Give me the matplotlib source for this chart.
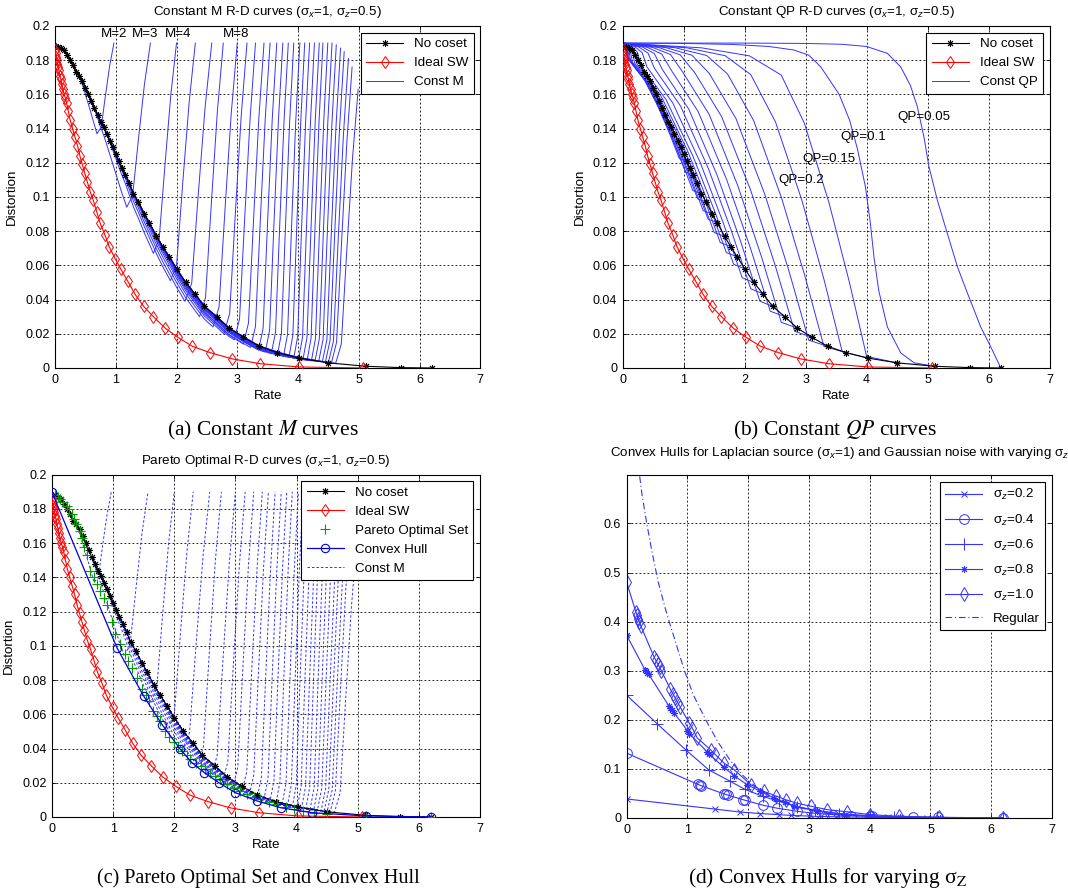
import numpy as np
import matplotlib
matplotlib.use('Agg')
import matplotlib.pyplot as plt
from matplotlib.ticker import FuncFormatter

plt.rcParams['font.family'] = ['Liberation Sans', 'DejaVu Sans']
plt.rcParams['mathtext.fontset'] = 'custom'
plt.rcParams['mathtext.rm'] = 'Liberation Sans'
plt.rcParams['mathtext.it'] = 'Liberation Sans:italic'

# ---------------- data ----------------
# No-coset curve (rate, distortion)
nc_r = np.array([0.05, 0.1, 0.15, 0.2, 0.25, 0.3, 0.35, 0.4, 0.45, 0.5, 0.55, 0.6, 0.65, 0.7, 0.75,
                 0.8, 0.85, 0.9, 0.95, 1.0, 1.05, 1.1, 1.16, 1.22, 1.29, 1.37, 1.47, 1.55, 1.67,
                 1.77, 1.88, 2.0, 2.15, 2.30, 2.46, 2.66, 2.86, 3.1, 3.36, 3.66, 4.02, 4.5, 5.12,
                 5.7, 6.2])
nc_d = np.array([0.188, 0.187, 0.186, 0.183, 0.180, 0.177, 0.173, 0.171, 0.168, 0.164, 0.160, 0.156,
                 0.152, 0.148, 0.144, 0.141, 0.137, 0.133, 0.129, 0.125, 0.121, 0.117, 0.113,
                 0.108, 0.102, 0.097, 0.090, 0.085, 0.077, 0.071, 0.065, 0.058, 0.050, 0.0434,
                 0.036, 0.030, 0.0234, 0.018, 0.0127, 0.009, 0.0058, 0.003, 0.001, 0.0002, 0.0])

# Ideal Slepian-Wolf curve
sw_r = np.array([0.0, 0.01, 0.02, 0.03, 0.04, 0.05, 0.065, 0.08, 0.095, 0.11, 0.13, 0.15, 0.17, 0.19,
                 0.22, 0.25, 0.29, 0.33, 0.37, 0.41, 0.45, 0.49, 0.53, 0.58, 0.63, 0.69, 0.74, 0.82,
                 0.89, 0.99, 1.08, 1.2, 1.32, 1.46, 1.62, 1.81, 2.02, 2.26, 2.55, 2.92, 3.38, 4.02, 5.07])
sw_d = np.array([0.186, 0.184, 0.182, 0.180, 0.178, 0.176, 0.174, 0.171, 0.169, 0.166, 0.163, 0.160,
                 0.158, 0.155, 0.150, 0.145, 0.140, 0.135, 0.130, 0.124, 0.119, 0.114, 0.109, 0.103,
                 0.098, 0.091, 0.085, 0.078, 0.071, 0.064, 0.058, 0.0506, 0.043, 0.036, 0.030, 0.0234,
                 0.018, 0.0127, 0.009, 0.0053, 0.0025, 0.0006, 0.0])

# Constant-M curves, M = 2..30: top point and lowest point of each curve
m_vals = list(range(2, 31))
m_rtop = [0.97, 1.57, 2.0, 2.31, 2.58, 2.77, 3.0, 3.16, 3.30, 3.44, 3.54, 3.65, 3.75, 3.84, 3.93,
          4.03, 4.11, 4.19, 4.27, 4.35, 4.41, 4.49, 4.56, 4.63, 4.70, 4.76, 4.83, 4.89, 4.99]
m_dtop = [0.19] * 23 + [0.189, 0.187, 0.185, 0.181, 0.176, 0.163]
m_rmin = [0.69, 1.18, 1.62, 1.90, 2.14, 2.38, 2.60, 2.78, 2.95, 3.10, 3.22, 3.35, 3.46, 3.56, 3.66,
          3.76, 3.85, 3.93, 4.01, 4.08, 4.15, 4.22, 4.28, 4.34, 4.40, 4.45, 4.50, 4.55, 4.62]
m_dmin = [0.137, 0.094, 0.067, 0.051, 0.039, 0.030, 0.024, 0.020, 0.0165, 0.014, 0.012, 0.0105,
          0.0093, 0.0083, 0.0075, 0.0068, 0.0062, 0.0057, 0.0052, 0.0048, 0.0045, 0.0042, 0.004,
          0.0038, 0.0036, 0.0034, 0.0032, 0.003, 0.0028]
# rising-branch shape read from the M=2 curve (fraction of width / height)
rise_u = [0.0, 0.25, 0.5, 0.75, 1.0]
rise_v = [0.0, 0.07, 0.42, 0.75, 1.0]

# Constant-QP curves
qp005_r = [0, 1, 2, 3, 3.6, 4.0, 4.34, 4.56, 4.72, 4.83, 4.94, 5.02, 5.16, 5.32, 5.49, 5.65, 5.87, 6.03, 6.2]
qp005_d = [0.19, 0.19, 0.19, 0.1898, 0.1893, 0.188, 0.184, 0.176, 0.165, 0.153, 0.135, 0.118, 0.098,
           0.079, 0.059, 0.044, 0.024, 0.0127, 0.0]
qp01_r = [0, 1, 1.8, 2.4, 2.8, 3.05, 3.25, 3.55, 3.72, 3.85, 3.98, 4.06, 4.12, 4.2, 4.34, 4.56, 4.78, 5.12]
qp01_d = [0.19, 0.1898, 0.1892, 0.188, 0.186, 0.183, 0.176, 0.16, 0.145, 0.128, 0.106, 0.085, 0.065,
          0.045, 0.024, 0.0088, 0.003, 0.001]
# remaining QP curves: end point on the no-coset curve, knee and foot rates
qp_end_r = [4.5, 4.02, 3.66, 3.36, 3.1, 2.86, 2.66, 2.46, 2.30, 2.15, 2.0, 1.88, 1.77, 1.67, 1.55,
            1.47, 1.37, 1.29, 1.16, 1.05]
qp_end_d = [0.003, 0.0058, 0.009, 0.0127, 0.018, 0.0234, 0.030, 0.036, 0.0434, 0.050, 0.058, 0.065,
            0.071, 0.077, 0.085, 0.090, 0.097, 0.102, 0.113, 0.121]
qp_knee = [2.6, 2.1, 1.72, 1.42, 1.18, 0.98, 0.8, 0.65, 0.52, 0.4, 0.3, 0.24, 0.2, 0.16, 0.13, 0.11,
           0.09, 0.08, 0.07, 0.06]
qp_foot = [4.0, 3.6, 3.3, 3.05, 2.82, 2.6, 2.42, 2.25, 2.1, 1.96, 1.82, 1.7, 1.6, 1.5, 1.4, 1.32,
           1.23, 1.15, 1.03, 0.93]
qp_upper_u = [0.0, 0.5, 0.8, 1.0]
qp_upper_v = [1.0, 0.985, 0.96, 0.9]
qp_drop_f = [0.27, 0.56, 0.8, 1.0]
qp_drop_v = [0.75, 0.5, 0.25, 0.02]
qp_labels = ['QP=0.05', 'QP=0.1', 'QP=0.15', 'QP=0.2']
qp_label_r = [4.5, 3.57, 2.95, 2.56]
qp_label_d = [0.147, 0.135, 0.122, 0.110]

# Pareto optimal set
po_r = [0.05, 0.1, 0.13, 0.18, 0.24, 0.28, 0.32, 0.36, 0.40, 0.45, 0.49, 0.53, 0.57, 0.62, 0.68,
        0.74, 0.79, 0.85, 0.90, 0.98, 1.03, 1.11, 1.20, 1.25, 1.31, 1.39, 1.47, 1.53, 1.58, 1.66,
        1.72, 1.77, 1.85, 1.92, 1.99, 2.06, 2.13, 2.2, 2.26, 2.35, 2.43, 2.51, 2.59, 2.67, 2.75,
        2.86, 2.97, 3.08, 3.19, 3.3, 3.41, 3.55, 3.68, 3.82, 3.96, 4.1, 4.28, 4.50, 5.13, 6.2]
po_d = [0.188, 0.187, 0.186, 0.184, 0.182, 0.180, 0.177, 0.174, 0.171, 0.167, 0.163, 0.158, 0.153,
        0.144, 0.140, 0.136, 0.132, 0.128, 0.124, 0.114, 0.107, 0.101, 0.095, 0.091, 0.087, 0.081,
        0.075, 0.071, 0.068, 0.062, 0.059, 0.056, 0.050, 0.047, 0.044, 0.041, 0.0385, 0.036,
        0.0337, 0.0318, 0.0298, 0.0278, 0.0259, 0.024, 0.022, 0.0195, 0.0171, 0.015, 0.0132,
        0.0117, 0.0103, 0.0088, 0.0074, 0.006, 0.0045, 0.0035, 0.0025, 0.0016, 0.0006, 0.0]
# Convex hull
ch_r = [0.0, 1.06, 1.5, 1.8, 2.1, 2.29, 2.49, 2.73, 3.0, 3.36, 3.74, 4.26, 5.13, 6.2]
ch_d = [0.1897, 0.099, 0.0706, 0.054, 0.0395, 0.0317, 0.0259, 0.020, 0.0142, 0.0093, 0.0054,
        0.0025, 0.0006, 0.0]

# Panel (d): convex hulls for varying sigma_z
s02_r = [0, 1.46, 1.87, 2.2, 2.5, 2.7, 3.0, 3.2, 3.45, 3.65, 4.0, 4.3, 4.6, 4.95]
s02_d = [0.0387, 0.018, 0.012, 0.009, 0.0068, 0.0052, 0.0038, 0.003, 0.0024, 0.002, 0.0014, 0.001,
         0.0007, 0.0005]
s04_r = [0, 1.17, 1.2, 1.23, 1.6, 1.63, 1.66, 1.92, 1.95, 2.24, 2.47, 2.8, 3.1, 3.4, 3.7, 4.0,
         4.04, 4.72, 5.13, 6.2]
s04_d = [0.132, 0.0685, 0.067, 0.0655, 0.049, 0.0478, 0.0468, 0.037, 0.036, 0.026, 0.020, 0.0136,
         0.0095, 0.0068, 0.005, 0.0036, 0.0034, 0.002, 0.001, 0.0]
s06_r = [0, 0.5, 0.97, 1.35, 1.7, 1.95, 2.24, 2.5, 2.8, 3.1, 3.5, 4.0, 4.4, 5.1, 6.2]
s06_d = [0.25, 0.192, 0.139, 0.098, 0.075, 0.058, 0.044, 0.034, 0.023, 0.016, 0.009, 0.0045,
         0.0025, 0.001, 0.0]
s08_r = [0, 0.30, 0.32, 0.34, 0.36, 0.69, 0.72, 0.75, 0.78, 1.0, 1.03, 1.32, 1.35, 1.6, 1.77,
         1.98, 2.2, 2.42, 2.6, 2.75, 3.14, 3.57, 4.01, 4.5, 5.16]
s08_d = [0.372, 0.302, 0.299, 0.296, 0.293, 0.229, 0.224, 0.219, 0.214, 0.178, 0.172, 0.135,
         0.131, 0.103, 0.086, 0.068, 0.054, 0.041, 0.032, 0.025, 0.0136, 0.0068, 0.0034, 0.0014, 0.0]
s10_r = [0, 0.15, 0.17, 0.19, 0.21, 0.23, 0.45, 0.48, 0.51, 0.54, 0.57, 0.72, 0.76, 0.8, 0.84,
         0.88, 1.03, 1.08, 1.16, 1.38, 1.45, 1.6, 1.77, 2.04, 2.26, 2.45, 2.62, 2.8, 3.03, 3.3,
         3.63, 4.01, 4.48, 5.14, 6.2]
s10_d = [0.48, 0.42, 0.413, 0.406, 0.399, 0.392, 0.328, 0.321, 0.314, 0.307, 0.30, 0.262, 0.253,
         0.244, 0.235, 0.226, 0.193, 0.183, 0.163, 0.139, 0.13, 0.112, 0.098, 0.068, 0.054, 0.045,
         0.037, 0.030, 0.024, 0.017, 0.0125, 0.0068, 0.0034, 0.0014, 0.0]
reg_r = [0.17, 0.2, 0.25, 0.33, 0.42, 0.52, 0.65, 0.8, 0.95, 1.1, 1.3, 1.5, 1.7, 1.9, 2.1, 2.4,
         2.8, 3.3, 3.9, 4.5]
reg_d = [0.75, 0.71, 0.66, 0.60, 0.54, 0.48, 0.42, 0.36, 0.30, 0.25, 0.20, 0.155, 0.118, 0.088,
         0.066, 0.042, 0.022, 0.009, 0.003, 0.001]
sig_labels = ['σ$_z$=0.2', 'σ$_z$=0.4', 'σ$_z$=0.6', 'σ$_z$=0.8', 'σ$_z$=1.0', 'Regular']

# ---------------- helpers ----------------
FS = 9
TFS = 9.6
BLUE = (0.0, 0.0, 1.0)
LBLUE = (0.2, 0.2, 1.0)
ASTER = (8, 2, 0)


def const_m_curve(k):
    rmin, dmin, rtop, dtop = m_rmin[k], m_dmin[k], m_rtop[k], m_dtop[k]
    nc_at_min = np.interp(rmin, nc_r, nc_d)
    sel = nc_r < rmin
    rd = nc_r[sel]
    w = np.clip((rd - 0.5 * rmin) / (0.5 * rmin), 0, 1) ** 1.5
    dd = nc_d[sel] * (1 - (1 - dmin / nc_at_min) * w)
    rr = np.concatenate([[0.0], rd, [rmin], rmin + np.array(rise_u[1:]) * (rtop - rmin)])
    yy = np.concatenate([[0.19], dd, [dmin], dmin + np.array(rise_v[1:]) * (dtop - dmin)])
    return rr, yy


def qp_curve(i):
    re, de, kn, ft = qp_end_r[i], qp_end_d[i], qp_knee[i], qp_foot[i]
    h = 0.19 - de
    rr = [u * kn for u in qp_upper_u] + [kn + f * (ft - kn) for f in qp_drop_f] + [re]
    yy = [de + v * h for v in qp_upper_v] + [de + v * h for v in qp_drop_v] + [de]
    return rr, yy


def style(ax, ymax, yticks):
    ax.set_xlim(0, 7)
    ax.set_ylim(0, ymax)
    ax.set_xticks(range(8))
    ax.set_yticks(yticks)
    ax.yaxis.set_major_formatter(FuncFormatter(lambda v, p: f'{v:g}'))
    ax.grid(True, color='k', linestyle=(0, (2.2, 2.6)), linewidth=0.6)
    ax.tick_params(direction='in', length=3, width=0.6, labelsize=FS, top=True, right=True, pad=4)
    for s in ax.spines.values():
        s.set_linewidth(0.8)
    ax.set_axisbelow(True)


def legend(ax, handles, labels, **kw):
    lg = ax.legend(handles, labels, loc='upper right', fontsize=TFS, fancybox=False,
                   edgecolor='k', framealpha=1, borderaxespad=0.5, handlelength=2.8, **kw)
    lg.get_frame().set_linewidth(0.8)
    return lg


fig = plt.figure(figsize=(10.68, 8.96), dpi=100)
axA = fig.add_axes([0.0515, 0.5893, 0.3982, 0.3817])
axB = fig.add_axes([0.583, 0.5893, 0.3998, 0.3817])
axC = fig.add_axes([0.0487, 0.0882, 0.4007, 0.382])
axD = fig.add_axes([0.5868, 0.0871, 0.3982, 0.3824])

yt = [0, 0.02, 0.04, 0.06, 0.08, 0.1, 0.12, 0.14, 0.16, 0.18, 0.2]

# ---------------- (a) ----------------
ax = axA
style(ax, 0.2, yt)
for k in range(len(m_vals)):
    rr, yy = const_m_curve(k)
    lm, = ax.plot(rr, yy, color=LBLUE, lw=0.7, zorder=2)
hn, = ax.plot(nc_r, nc_d, '-', color='k', marker=ASTER, ms=5, mew=0.7, lw=0.8, zorder=3)
hs, = ax.plot(sw_r, sw_d, '-', color='r', marker='d', ms=6, mfc='none', mew=0.7, lw=0.8, zorder=3)
for mv, rl in zip([2, 3, 4, 8], [0.76, 1.26, 1.81, 2.76]):
    ax.text(rl, 0.1955, f'M={mv}', fontsize=TFS, va='center', ha='left')
legend(ax, [hn, hs, lm], ['No coset', 'Ideal SW', 'Const M'])
ax.set_title('Constant M R-D curves (σ$_x$=1, σ$_z$=0.5)', fontsize=TFS, pad=8)
ax.set_xlabel('Rate', fontsize=TFS, labelpad=3)
ax.set_ylabel('Distortion', fontsize=TFS, labelpad=5)

# ---------------- (b) ----------------
ax = axB
style(ax, 0.2, yt)
ax.plot(qp005_r, qp005_d, color=LBLUE, lw=0.7, zorder=2)
lq, = ax.plot(qp01_r, qp01_d, color=LBLUE, lw=0.7, zorder=2)
for i in range(len(qp_end_r)):
    rr, yy = qp_curve(i)
    ax.plot(rr, yy, color=LBLUE, lw=0.7, zorder=2)
hn, = ax.plot(nc_r, nc_d, '-', color='k', marker=ASTER, ms=5, mew=0.7, lw=0.8, zorder=3)
hs, = ax.plot(sw_r, sw_d, '-', color='r', marker='d', ms=6, mfc='none', mew=0.7, lw=0.8, zorder=3)
for t, rl, dl in zip(qp_labels, qp_label_r, qp_label_d):
    ax.text(rl, dl, t, fontsize=TFS, va='center', ha='left')
legend(ax, [hn, hs, lq], ['No coset', 'Ideal SW', 'Const QP'])
ax.set_title('Constant QP R-D curves (σ$_x$=1, σ$_z$=0.5)', fontsize=TFS, pad=8)
ax.set_xlabel('Rate', fontsize=TFS, labelpad=3)
ax.set_ylabel('Distortion', fontsize=TFS, labelpad=5)

# ---------------- (c) ----------------
ax = axC
style(ax, 0.2, yt)
for k in range(len(m_vals)):
    rr, yy = const_m_curve(k)
    lm, = ax.plot(rr, yy, color=LBLUE, lw=0.7, ls=(0, (2.6, 2.0)), zorder=2)
hn, = ax.plot(nc_r, nc_d, '-', color='k', marker=ASTER, ms=5, mew=0.7, lw=0.8, zorder=3)
hs, = ax.plot(sw_r, sw_d, '-', color='r', marker='d', ms=6, mfc='none', mew=0.7, lw=0.8, zorder=3)
hp, = ax.plot(po_r, po_d, ls='none', marker='+', color='#00a000', ms=7, mew=0.8, zorder=4)
hc, = ax.plot(ch_r, ch_d, '-', color=(0, 0, 0.85), marker='o', ms=6, mfc='none', mew=0.8, lw=0.9, zorder=5)
legend(ax, [hn, hs, hp, hc, lm], ['No coset', 'Ideal SW', 'Pareto Optimal Set', 'Convex Hull', 'Const M'])
ax.set_title('Pareto Optimal R-D curves (σ$_x$=1, σ$_z$=0.5)', fontsize=TFS, pad=8)
ax.set_xlabel('Rate', fontsize=TFS, labelpad=3)
ax.set_ylabel('Distortion', fontsize=TFS, labelpad=5)

# ---------------- (d) ----------------
ax = axD
style(ax, 0.698, [0, 0.1, 0.2, 0.3, 0.4, 0.5, 0.6])
hd = []
for rr, yy, mk, ms in zip([s02_r, s04_r, s06_r, s08_r, s10_r], [s02_d, s04_d, s06_d, s08_d, s10_d],
                          ['x', 'o', '+', ASTER, 'd'], [5, 7, 9, 5, 7]):
    h, = ax.plot(rr, yy, '-', color=LBLUE, marker=mk, ms=ms, mfc='none', mew=0.7, lw=0.8)
    hd.append(h)
h, = ax.plot(reg_r, reg_d, color=LBLUE, lw=0.8, ls=(0, (6, 2.5, 1, 2.5)))
hd.append(h)
legend(ax, hd, sig_labels, labelspacing=0.75)
ax.set_title('Convex Hulls for Laplacian source (σ$_x$=1) and Gaussian noise with varying σ$_z$',
             fontsize=TFS, pad=14)

# ---------------- captions ----------------
cap = dict(family=['Liberation Serif', 'DejaVu Serif'], ha='center', va='center',
           math_fontfamily='stix')
fig.text(263 / 1068, 1 - 430 / 896, '(a) Constant $M$ curves', fontsize=15.5, **cap)
fig.text(835 / 1068, 1 - 430 / 896, '(b) Constant $QP$ curves', fontsize=15.5, **cap)
fig.text(258 / 1068, 1 - 878 / 896, '(c) Pareto Optimal Set and Convex Hull', fontsize=14.5, **cap)
fig.text(828 / 1068, 1 - 878 / 896, '(d) Convex Hulls for varying σ$_\\mathrm{Z}$', fontsize=15.5, **cap)

fig.savefig('out.png', dpi=100)
